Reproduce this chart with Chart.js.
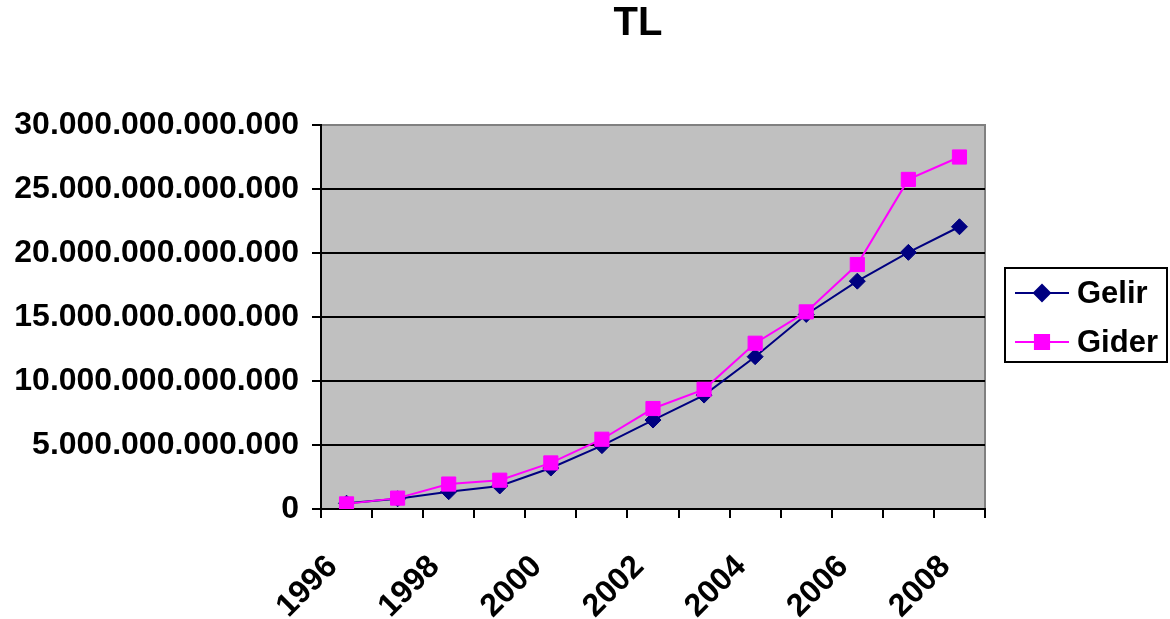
<!DOCTYPE html>
<html>
<head>
<meta charset="utf-8">
<script src="https://cdn.jsdelivr.net/npm/chart.js@4.4.0/dist/chart.umd.min.js"></script>
<style>
  html, body { margin: 0; padding: 0; background: #fff; }
  #wrap { width: 1170px; height: 619px; position: relative; }
</style>
</head>
<body>
<div id="wrap"><canvas id="tlChart"></canvas></div>
<script>
// data
const years = ['1996','1997','1998','1999','2000','2001','2002','2003','2004','2005','2006','2007','2008'];
const gelir = [0.45e12, 0.8e12, 1.35e12, 1.8e12, 3.2e12, 4.95e12, 6.95e12, 8.9e12, 11.9e12, 15.2e12, 17.8e12, 20.05e12, 22.05e12];
const gider = [0.4e12, 0.85e12, 1.95e12, 2.25e12, 3.6e12, 5.45e12, 7.85e12, 9.35e12, 12.95e12, 15.4e12, 19.1e12, 25.75e12, 27.5e12];
const seriesNames = ['Gelir', 'Gider'];
const chartTitle = 'TL';

const NAVY = '#000080';
const PINK = '#FF00FF';
const FONT = 'Liberation Sans, Arial, sans-serif';

function dotted(v) {
  return String(Math.round(v)).replace(/\B(?=(\d{3})+(?!\d))/g, '.');
}

/* ================= plot background + title + legend ================= */
const excelLook = {
  id: 'excelLook',
  beforeDraw(chart) {
    const { ctx, chartArea: a } = chart;
    ctx.save();
    ctx.fillStyle = '#C0C0C0';
    ctx.fillRect(a.left, a.top, a.right - a.left, a.bottom - a.top);
    ctx.strokeStyle = '#808080';
    ctx.lineWidth = 2;
    ctx.beginPath();
    ctx.moveTo(a.left, a.top);
    ctx.lineTo(a.right, a.top);
    ctx.lineTo(a.right, a.bottom);
    ctx.stroke();
    ctx.restore();
  },
  afterDraw(chart) {
    const { ctx } = chart;
    ctx.save();
    // title
    ctx.fillStyle = '#000';
    ctx.font = 'bold 40px ' + FONT;
    ctx.textAlign = 'center';
    ctx.textBaseline = 'middle';
    ctx.fillText(chartTitle, 638, 24);

    // legend box
    const bx = 1005, by = 268, bw = 162, bh = 94;
    ctx.fillStyle = '#fff';
    ctx.fillRect(bx, by, bw, bh);
    ctx.strokeStyle = '#000';
    ctx.lineWidth = 2;
    ctx.strokeRect(bx, by, bw, bh);

    const rows = [
      { name: seriesNames[0], color: NAVY, style: 'rectRot', r: 8, y: 293 },
      { name: seriesNames[1], color: PINK, style: 'rect', r: 10, y: 342 }
    ];
    rows.forEach(row => {
      ctx.strokeStyle = row.color;
      ctx.lineWidth = 2;
      ctx.beginPath();
      ctx.moveTo(1015, row.y);
      ctx.lineTo(1069, row.y);
      ctx.stroke();
      ctx.fillStyle = row.color;
      Chart.helpers.drawPoint(ctx, { pointStyle: row.style, radius: row.r, rotation: 0, borderWidth: 1 }, 1042, row.y);
      ctx.fill();
      ctx.fillStyle = '#000';
      ctx.font = 'bold 31px ' + FONT;
      ctx.textAlign = 'left';
      ctx.textBaseline = 'middle';
      ctx.fillText(row.name, 1077, row.y + 1);
    });
    ctx.restore();
  }
};

new Chart(document.getElementById('tlChart').getContext('2d'), {
  type: 'line',
  data: {
    labels: years,
    datasets: [{
      label: seriesNames[0],
      data: gelir,
      borderColor: NAVY,
      backgroundColor: NAVY,
      borderWidth: 2,
      pointStyle: 'rectRot',
      pointRadius: 8,
      pointBorderWidth: 1,
      tension: 0,
      order: 2
    }, {
      label: seriesNames[1],
      data: gider,
      borderColor: PINK,
      backgroundColor: PINK,
      borderWidth: 2,
      pointStyle: 'rect',
      pointRadius: 10,
      pointBorderWidth: 1,
      tension: 0,
      order: 1
    }]
  },
  options: {
    responsive: true,
    maintainAspectRatio: false,
    devicePixelRatio: 1,
    animation: false,
    layout: { padding: { top: 125, right: 185, bottom: 0, left: 0 } },
    plugins: {
      legend: { display: false },
      title: { display: false },
      tooltip: { enabled: false }
    },
    scales: {
      x: {
        type: 'category',
        offset: true,
        afterFit(scale) { scale.height = 110; },
        grid: {
          offset: true,
          drawOnChartArea: false,
          drawTicks: true,
          tickLength: 9,
          color: '#000',
          lineWidth: 2
        },
        border: { color: '#000', width: 2 },
        ticks: {
          autoSkip: false,
          maxRotation: 45,
          minRotation: 45,
          padding: 30,
          labelOffset: -14,
          color: '#000',
          font: { family: FONT, size: 32, weight: 'bold' },
          callback(val, i) { return i % 2 === 0 ? this.getLabelForValue(val) : ''; }
        }
      },
      y: {
        min: 0,
        max: 30e12,
        afterFit(scale) { scale.width = 321; },
        grid: {
          color: ctx => (ctx.tick && ctx.tick.value === 30e12 ? '#808080' : '#000'),
          tickColor: '#000',
          lineWidth: 2,
          tickLength: 9
        },
        border: { color: '#000', width: 2 },
        ticks: {
          stepSize: 5e12,
          padding: 13,
          color: '#000',
          font: { family: FONT, size: 32, weight: 'bold' },
          callback: v => dotted(v)
        }
      }
    }
  },
  plugins: [excelLook]
});
</script>
</body>
</html>
